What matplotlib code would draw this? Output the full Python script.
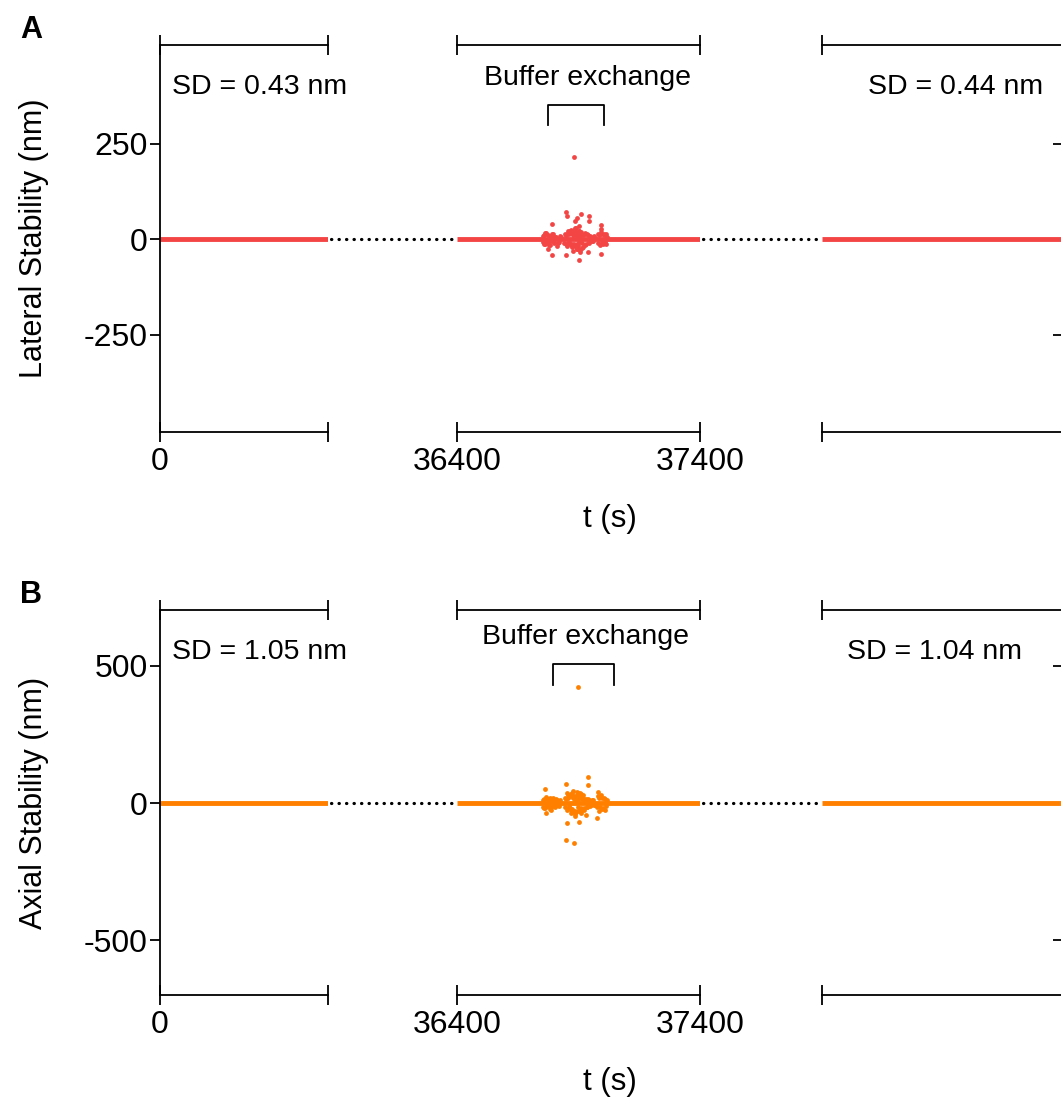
import matplotlib
matplotlib.use("Agg")
import matplotlib.pyplot as plt
import matplotlib.transforms as mtransforms
from matplotlib.lines import Line2D

plt.rcParams['font.family'] = ['Liberation Sans', 'DejaVu Sans']
plt.rcParams['font.size'] = 20

# x ranges of the three broken-axis segments (s)
seg_ranges = [(0, 690), (36400, 37400), (72600, 73584)]
seg_ticks = [[0, 690], [36400, 37400], [72600]]
seg_ticklabels = [['0', ''], ['36400', '37400'], ['']]

# baseline trace (nm), one value per segment end
base_vals = [0, 0]

# panel A: lateral stability, points around buffer exchange
lat_t = [36881, 36849, 36852, 36910, 36893, 36884, 36945, 36945, 36790, 36900,
         36993, 36993, 36761, 36857, 36790, 36849, 36904, 36941, 36774, 36993,
         36893, 36906, 36811, 36873,
         36755, 36760, 36765, 36770, 36775, 36780, 36785, 36792, 36798, 36805,
         36815, 36822, 36845, 36850, 36855, 36862, 36868, 36875, 36880, 36886,
         36890, 36895, 36900, 36905, 36912, 36918, 36925, 36932, 36938, 36945,
         36952, 36960, 36966, 36982, 36988, 36994, 37000, 37006, 37012, 37016,
         36878, 36887, 36897, 36903, 36915, 36870, 36858, 36928,
         36752, 36757, 36762, 36768, 36773, 36778, 36783, 36788, 36795, 36800,
         36808, 36818, 36826, 36842, 36847, 36853, 36860, 36865, 36872, 36877,
         36883, 36889, 36893, 36898, 36902, 36908, 36914, 36920, 36927, 36935,
         36942, 36948, 36955, 36962, 36979, 36985, 36991, 36997, 37003, 37009,
         37014, 36884, 36892, 36899, 36888, 36894, 36880, 36903, 36872, 36866]
lat_v = [216, 71, 61, 65, 56, 48, 61, 48, 39, 35,
         36, 26, 17, 17, -42, -43, -56, -35, -26, -39,
         -26, -35, -17, -17,
         8, -12, 14, -6, 10, -15, 5, 12, -9, 6,
         -10, 8, 12, -14, 20, -8, 15, -22, 25, -18,
         28, -25, 22, -28, 18, -20, 14, -12, 10, -8,
         6, -5, 4, 14, -16, 18, -12, 10, -14, 6,
         -30, 30, -20, 12, -24, 24, -10, 16,
         -8, 10, -14, 16, -10, 8, -16, -6, 12, -10,
         6, -8, 5, -10, 8, -18, 12, -14, 18, 10,
         -14, 16, 12, -16, 20, 8, -10, 10, -16, 12,
         -10, 8, -6, 8, -10, 10, 12, -8, 14, -8,
         12, 20, -14, 8, -18, 14, 6, -8, -12, 22]

# panel B: axial stability, points around buffer exchange
ax_t = [36898, 36939, 36939, 36850, 36761, 36852, 36980, 36906, 36852, 36881,
        36850, 36900, 36976, 36765, 36930, 36869, 36786,
        36755, 36760, 36766, 36772, 36778, 36784, 36790, 36796, 36802, 36810,
        36818, 36846, 36852, 36858, 36864, 36870, 36876, 36882, 36888, 36894,
        36900, 36906, 36912, 36918, 36924, 36930, 36936, 36942, 36950, 36958,
        36966, 36980, 36986, 36992, 36998, 37004, 37010, 37016, 36874, 36884,
        36896, 36910, 36920,
        36753, 36758, 36763, 36769, 36775, 36781, 36787, 36793, 36799, 36806,
        36814, 36824, 36843, 36849, 36855, 36861, 36867, 36873, 36879, 36885,
        36891, 36897, 36903, 36909, 36915, 36921, 36927, 36933, 36939, 36946,
        36954, 36962, 36978, 36983, 36989, 36995, 37001, 37007, 37013, 36878,
        36886, 36892, 36902, 36868, 36912, 36898, 36884, 36860]
ax_v = [423, 94, 65, 70, 50, 35, 41, 35, -74, -147,
        -135, -68, -56, -38, -44, -38, -25,
        12, -18, 22, -10, 16, -22, 8, 18, -14, 10,
        -12, 20, -26, 28, -20, 32, -30, 26, -34, 30,
        -24, 22, -28, 18, -20, 14, -16, 10, -8, 12,
        -6, 24, -28, 30, -22, 18, -26, 10, 38, -40,
        36, -36, 28,
        -14, 16, -20, 14, -12, 20, -16, 12, -10, 14,
        -8, 10, -16, 14, 20, -18, 24, -22, 18, -28,
        22, -16, 26, -20, 16, -26, 12, -14, 16, -12,
        10, -8, -16, 20, -14, 18, -20, 14, -12, 44,
        -48, 40, -30, -24, 34, 12, 8, -10]

panels = [
    dict(letter='A', ylabel='Lateral Stability (nm)', ylim=(-505, 508), yticks=[-250, 0, 250],
         color='#f44545', t=lat_t, v=lat_v, sd=('SD = 0.43 nm', 'SD = 0.44 nm'),
         bracket=(36774, 37005, 352, 299), label_xy=(36935, 422), sd3_x=0.925,
         bottom=0.6062, height=0.3528),
    dict(letter='B', ylabel='Axial Stability (nm)', ylim=(-700, 704), yticks=[-500, 0, 500],
         color='#ff8000', t=ax_t, v=ax_v, sd=('SD = 1.05 nm', 'SD = 1.04 nm'),
         bracket=(36795, 37046, 507, 431), label_xy=(36927, 606), sd3_x=0.837,
         bottom=0.0930, height=0.3510),
]

W, H = 1061, 1097
seg_px = [(160, 328), (457, 700), (822, 1061)]

fig = plt.figure(figsize=(W / 100, H / 100), dpi=100)

for p in panels:
    axes = []
    for i, (x0, x1) in enumerate(seg_px):
        ax = fig.add_axes([x0 / W, p['bottom'], (x1 - x0) / W, p['height']])
        lo, hi = seg_ranges[i]
        ax.plot([lo, hi], base_vals, color=p['color'], lw=3.5, solid_capstyle='butt', zorder=2)
        ax.set_xlim(lo, hi)
        ax.set_ylim(*p['ylim'])
        ax.set_xticks(seg_ticks[i])
        ax.set_xticklabels(seg_ticklabels[i])
        ax.tick_params(axis='x', which='both', top=True, bottom=True, direction='inout',
                       length=14, width=1.3, pad=4, labelsize=23)
        for s in ['top', 'bottom']:
            ax.spines[s].set_linewidth(1.3)
        ax.spines['right'].set_visible(False)
        if i == 0:
            ax.set_yticks(p['yticks'])
            ax.set_yticklabels([str(y) for y in p['yticks']])
            ax.tick_params(axis='y', direction='out', length=7, width=1.3, pad=2, labelsize=23)
            ax.spines['left'].set_linewidth(1.3)
        else:
            ax.spines['left'].set_visible(False)
            if i == 2:
                ax.set_yticks(p['yticks'][::2])
                ax.yaxis.tick_right()
                ax.tick_params(axis='y', direction='in', length=6, width=1.3, labelright=False)
            else:
                ax.set_yticks([])
        axes.append(ax)

    a1, a2, a3 = axes
    a2.scatter(p['t'], p['v'], s=12, color=p['color'], linewidths=0, zorder=3)

    # buffer exchange bracket
    bx0, bx1, btop, bleg = p['bracket']
    a2.plot([bx0, bx0, bx1, bx1], [bleg, btop, btop, bleg], color='black', lw=1.3, clip_on=False)
    a2.text(p['label_xy'][0], p['label_xy'][1], 'Buffer exchange', ha='center', va='center',
            fontsize=20.5)

    a1.text(0.07, 0.891, p['sd'][0], transform=a1.transAxes, ha='left', va='center', fontsize=20.5)
    a3.text(p['sd3_x'], 0.891, p['sd'][1], transform=a3.transAxes, ha='right', va='center',
            fontsize=20.5)

    a1.set_ylabel(p['ylabel'], fontsize=22)
    a1.yaxis.set_label_coords(-111 / 168, 0.5)

    # dotted connectors across the breaks
    tr = mtransforms.blended_transform_factory(fig.transFigure, a1.transData)
    for gx0, gx1 in [(331, 455), (703, 820)]:
        fig.add_artist(Line2D([gx0 / W, gx1 / W], [0, 0], transform=tr, color='black',
                              lw=2.3, linestyle=(0, (0.1, 2.25)), dash_capstyle='round'))

    top_px = (1 - p['bottom'] - p['height']) * H
    fig.text(31 / W, 1 - (top_px - 15) / H, p['letter'], fontsize=22, fontweight='bold',
             ha='center', va='center')
    fig.text(610 / W, p['bottom'] - 87 / H, 't (s)', fontsize=22.5, ha='center', va='center')

fig.savefig('out.png', dpi=100)
